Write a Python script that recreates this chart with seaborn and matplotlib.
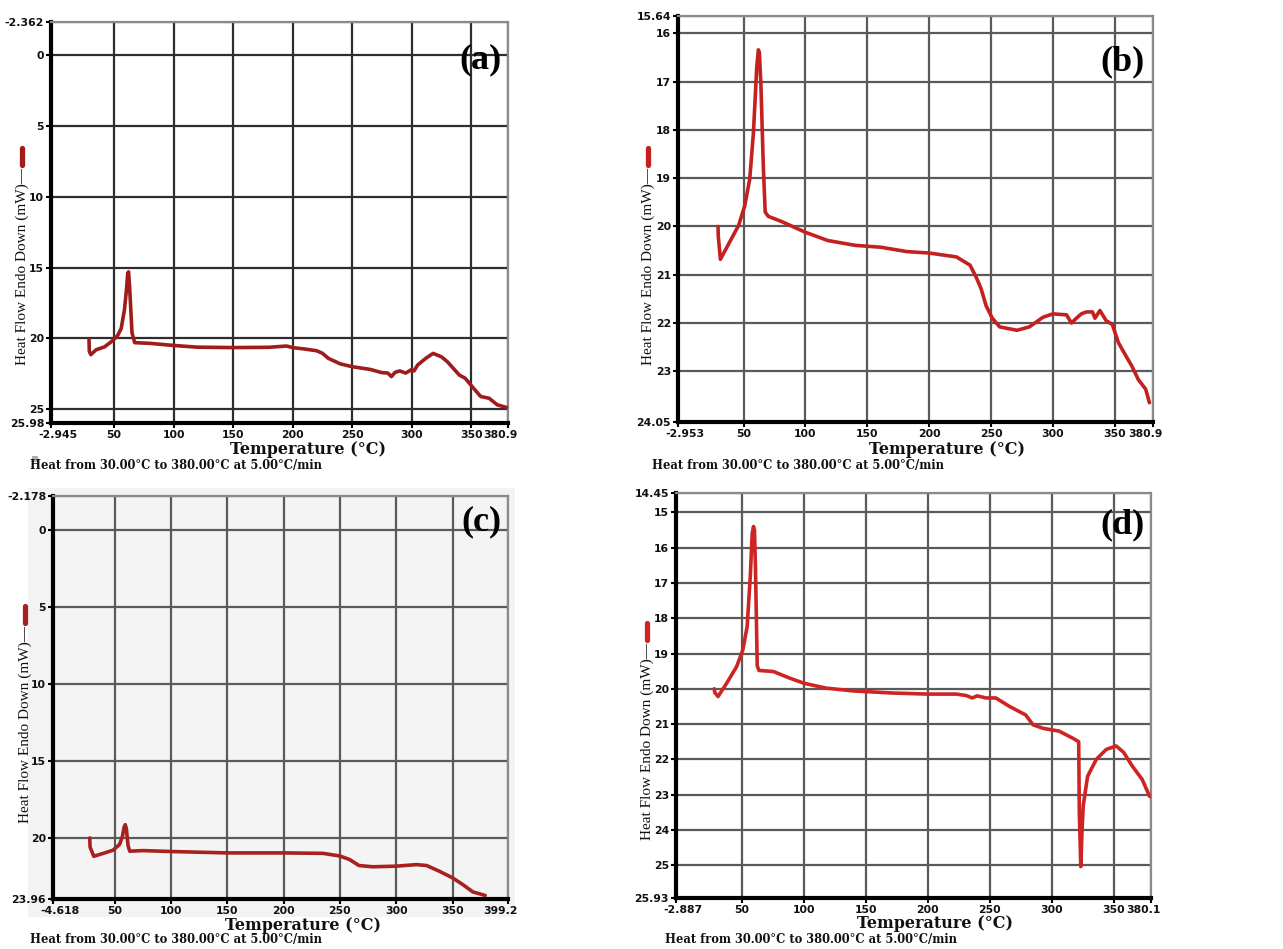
import numpy as np
import pandas as pd
import seaborn as sns
import matplotlib.pyplot as plt
from matplotlib.transforms import ScaledTranslation
from matplotlib.lines import Line2D
from matplotlib.patches import Rectangle

# ---------------- data ----------------
T_a = [29, 29.2, 30.5, 35, 42, 49, 53, 56, 58.7, 60.4, 61.5, 62.2, 63.1, 65.1, 67.3,
       80, 100, 120, 150, 180, 195, 200, 210, 220, 225, 230, 240, 250, 265, 275,
       280, 283, 286, 290, 295, 300, 302, 305, 312, 318, 325, 330, 340, 345, 352,
       358, 365, 372, 380]
HF_a = [20.1, 20.9, 21.15, 20.8, 20.6, 20.15, 19.8, 19.3, 18.0, 16.6, 15.4, 15.3, 16.4, 19.6, 20.3,
        20.35, 20.5, 20.62, 20.65, 20.63, 20.54, 20.65, 20.75, 20.87, 21.05, 21.41, 21.8, 22.0, 22.19, 22.42,
        22.45, 22.7, 22.4, 22.3, 22.45, 22.2, 22.3, 21.88, 21.4, 21.06, 21.3, 21.65, 22.59, 22.82, 23.53,
        24.11, 24.23, 24.7, 24.89]

T_b = [29.4, 29.6, 31.3, 38, 46, 51, 55, 58, 60.7, 62.0, 62.8, 64, 66, 67.5, 70,
       81, 100, 118, 140, 161, 182, 200, 222, 233, 238, 242, 246, 251, 257, 271,
       281, 292, 300, 311, 315, 319, 323, 327, 332, 334, 338, 343, 348, 353, 359,
       364, 369, 375, 378]
HF_b = [20.0, 20.2, 20.68, 20.36, 19.98, 19.57, 19.02, 18.06, 16.69, 16.34, 16.4, 17.03, 18.75, 19.7, 19.79,
        19.9, 20.12, 20.29, 20.39, 20.43, 20.52, 20.55, 20.63, 20.8, 21.05, 21.29, 21.64, 21.9, 22.08, 22.15,
        22.08, 21.88, 21.81, 21.83, 22.0, 21.9, 21.81, 21.77, 21.77, 21.9, 21.74, 21.95, 22.03, 22.41, 22.68,
        22.9, 23.17, 23.37, 23.65]

T_c = [28, 28.3, 31.6, 40, 48.5, 54.4, 57, 58.5, 59.5, 60.5, 62, 63.5, 75, 100, 150,
       200, 235, 250, 258.6, 267, 279, 300, 318, 327, 338, 350, 359, 368, 379]
HF_c = [20.0, 20.6, 21.19, 21.0, 20.8, 20.43, 19.9, 19.3, 19.14, 19.4, 20.5, 20.86, 20.82, 20.88, 20.97,
        20.97, 21.0, 21.17, 21.4, 21.79, 21.87, 21.83, 21.73, 21.79, 22.15, 22.59, 23.02, 23.5, 23.73]

T_d = [28, 28.3, 31, 38, 46, 51, 54.5, 57, 58.6, 59.6, 60.4, 61.2, 62.6, 64, 75.6,
       89, 100, 118, 140, 172, 200, 223, 231, 236, 240, 247, 255, 266, 279, 285,
       293, 306, 317, 321.8, 322.3, 323.5, 324.5, 325.5, 329, 336, 344, 352, 358, 365, 373,
       379]
HF_d = [20.0, 20.1, 20.22, 19.84, 19.37, 18.9, 18.23, 16.81, 15.58, 15.4, 15.5, 16.6, 19.35, 19.48, 19.51,
        19.7, 19.84, 19.98, 20.06, 20.12, 20.15, 20.15, 20.19, 20.26, 20.2, 20.26, 20.26, 20.5, 20.74, 21.02,
        21.12, 21.2, 21.4, 21.5, 23.5, 25.04, 24.0, 23.3, 22.48, 22.0, 21.72, 21.62, 21.8, 22.19, 22.57,
        23.05]

xlims = {"a": (-2.945, 380.9), "b": (-2.953, 380.9), "c": (-4.618, 399.2), "d": (-2.887, 380.1)}
xlim_labels = {"a": ("-2.945", "380.9"), "b": ("-2.953", "380.9"), "c": ("-4.618", "399.2"), "d": ("-2.887", "380.1")}
ylims = {"a": (-2.362, 25.98), "b": (15.64, 24.05), "c": (-2.178, 23.96), "d": (14.45, 25.93)}
ylim_labels = {"a": ("-2.362", "25.98"), "b": ("15.64", "24.05"), "c": ("-2.178", "23.96"), "d": ("14.45", "25.93")}
yticks = {"a": [0, 5, 10, 15, 20, 25], "b": [16, 17, 18, 19, 20, 21, 22, 23],
          "c": [0, 5, 10, 15, 20], "d": [15, 16, 17, 18, 19, 20, 21, 22, 23, 24, 25]}
xticks = [50, 100, 150, 200, 250, 300, 350]
curves = {"a": (T_a, HF_a), "b": (T_b, HF_b), "c": (T_c, HF_c), "d": (T_d, HF_d)}

xlabel_text = "Temperature (°C)"
ylabel_text = "Heat Flow Endo Down (mW)—"
sub_text = "Heat from 30.00°C to 380.00°C at 5.00°C/min"

# ---------------- layout / style ----------------
W, H = 1283, 949
style = {
    "a": dict(rect=(51, 22, 508, 423), color="#a01b1b", grid="#2e2e2e", bg="white",
              xl=(308, 450), sub=(30, 466), yl=(22, 365), lab=(481, 60)),
    "b": dict(rect=(678, 16, 1153, 422), color="#c42020", grid="#5a5a5a", bg="white",
              xl=(947, 450), sub=(652, 466), yl=(648, 365), lab=(1122, 62)),
    "c": dict(rect=(53, 496, 508, 899), color="#a82020", grid="#5a5a5a", bg="#f4f4f4",
              xl=(303, 925), sub=(30, 940), yl=(25, 823), lab=(481, 522)),
    "d": dict(rect=(676, 493, 1151, 898), color="#cf2424", grid="#5a5a5a", bg="white",
              xl=(935, 924), sub=(665, 940), yl=(647, 840), lab=(1122, 525)),
}

sns.set_theme(style="white")
plt.rcParams['font.family'] = ['DejaVu Sans']

fig = plt.figure(figsize=(W / 100, H / 100), dpi=100)
fig.patch.set_facecolor("white")

# light grey panel backdrop behind (c)
fig.patches.append(Rectangle((28 / W, 1 - 917 / H), (515 - 28) / W, (917 - 488) / H,
                             transform=fig.transFigure, facecolor="#f3f3f3",
                             edgecolor="none", zorder=-10))

ylabels = {}
for key in ["a", "b", "c", "d"]:
    s = style[key]
    l, t, r, b = s["rect"]
    ax = fig.add_axes([l / W, 1 - b / H, (r - l) / W, (b - t) / H])
    ax.set_facecolor(s["bg"])
    T, V = curves[key]
    df = pd.DataFrame({"T": T, "HF": V})
    sns.lineplot(data=df, x="T", y="HF", ax=ax, color=s["color"], lw=2.6,
                 sort=False, estimator=None, zorder=5)
    x0, x1 = xlims[key]
    y0, y1 = ylims[key]
    ax.set_xlim(x0, x1)
    ax.set_ylim(y1, y0)

    ax.set_xticks([x0] + xticks + [x1])
    ax.set_xticklabels([xlim_labels[key][0]] + [str(v) for v in xticks] + [xlim_labels[key][1]])
    ax.set_yticks([y0] + yticks[key] + [y1])
    ax.set_yticklabels([ylim_labels[key][0]] + [str(v) for v in yticks[key]] + [ylim_labels[key][1]])

    ax.grid(True, color=s["grid"], lw=1.6)
    ax.set_axisbelow(True)
    for sp in ["top", "right"]:
        ax.spines[sp].set_color("#8a8a8a")
        ax.spines[sp].set_linewidth(1.6)
    for sp in ["left", "bottom"]:
        ax.spines[sp].set_color("black")
        ax.spines[sp].set_linewidth(3.0)
    ax.tick_params(axis="both", which="major", direction="out", length=3.5, width=1.5,
                   color="black", pad=1.5, labelsize=7.8, labelcolor="#111111",
                   bottom=True, left=True)
    for lbl in ax.get_xticklabels() + ax.get_yticklabels():
        lbl.set_fontweight("bold")
        lbl.set_family("DejaVu Sans")
    xt = ax.get_xticklabels()
    xt[0].set_transform(xt[0].get_transform() + ScaledTranslation(7 / 100, 0, fig.dpi_scale_trans))
    xt[-1].set_horizontalalignment("right")
    xt[-1].set_transform(xt[-1].get_transform() + ScaledTranslation(10 / 100, 0, fig.dpi_scale_trans))
    ax.set_xlabel("")
    ax.set_ylabel("")

    # axis title, subtitle, panel label
    fig.text(s["xl"][0] / W, 1 - s["xl"][1] / H, xlabel_text, ha="center", va="center",
             family="DejaVu Serif", fontweight="bold", fontsize=11.5, color="#111111")
    fig.text(s["sub"][0] / W, 1 - s["sub"][1] / H, sub_text, ha="left", va="center",
             family="DejaVu Serif", fontweight="bold", fontsize=8.3, color="#111111")
    fig.text(s["lab"][0] / W, 1 - s["lab"][1] / H, f"({key})", ha="center", va="center",
             family="Liberation Serif", fontweight="bold", fontsize=26, color="black")
    yl = fig.text(s["yl"][0] / W, 1 - s["yl"][1] / H, ylabel_text, ha="center", va="bottom",
                  rotation=90, family="Liberation Serif", fontsize=11, color="#111111")
    ylabels[key] = (yl, s)

# small red legend marker above each y-axis title
fig.canvas.draw()
for key, (yl, s) in ylabels.items():
    bb = yl.get_window_extent()
    top_px = bb.y1
    xc = s["yl"][0] / W
    y_a = (top_px + 3) / H
    y_b = (top_px + 20) / H
    fig.add_artist(Line2D([xc, xc], [y_a, y_b], transform=fig.transFigure,
                          color=s["color"], lw=3.8, solid_capstyle="round"))

# small grey square near subtitle (a)
fig.patches.append(Rectangle((32 / W, 1 - 462 / H), 6 / W, 6 / H, transform=fig.transFigure,
                             facecolor="#b0b0b0", edgecolor="none"))

fig.savefig("out.png", dpi=100)
